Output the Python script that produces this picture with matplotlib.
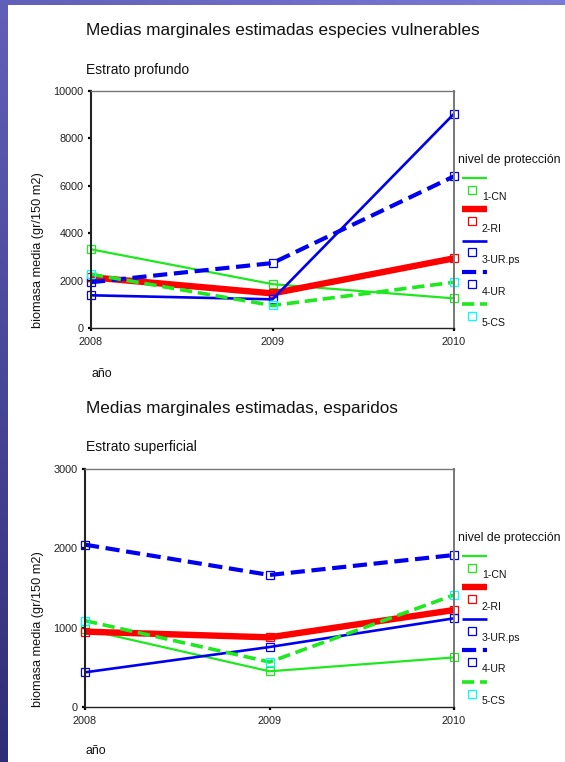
import numpy as np
import matplotlib
matplotlib.use("Agg")
import matplotlib.pyplot as plt
from matplotlib.lines import Line2D
from matplotlib.patches import Rectangle

plt.rcParams['font.family'] = ['Liberation Sans', 'DejaVu Sans']

years = [2008, 2009, 2010]
series_names = ['1-CN', '2-RI', '3-UR.ps', '4-UR', '5-CS']

# Estrato profundo (especies vulnerables)
prof_cn = [3320, 1850, 1250]
prof_ri = [2140, 1460, 2940]
prof_urps = [1380, 1210, 9040]
prof_ur = [1930, 2740, 6400]
prof_cs = [2270, 950, 1930]

# Estrato superficial (esparidos)
sup_cn = [980, 450, 625]
sup_ri = [950, 878, 1222]
sup_urps = [437, 756, 1118]
sup_ur = [2046, 1664, 1916]
sup_cs = [1088, 567, 1412]

prof_ticks = [0, 2000, 4000, 6000, 8000, 10000]
sup_ticks = [0, 1000, 2000, 3000]

GREEN = '#1ee81e'
RED = '#ff0000'
BLUE = '#0000ee'
CYAN = '#00ffff'

styles = [
    dict(color=GREEN, lw=1.6, ls='-', mec=GREEN),
    dict(color=RED, lw=4.6, ls='-', mec=RED),
    dict(color=BLUE, lw=1.9, ls='-', mec=BLUE),
    dict(color=BLUE, lw=3.0, ls=(0, (3.4, 1.6)), mec=BLUE),
    dict(color=GREEN, lw=2.6, ls=(0, (3.4, 1.6)), mec=CYAN),
]

W, H = 565, 762
fig = plt.figure(figsize=(W / 100, H / 100), dpi=100)

# gradient frame background
bg = fig.add_axes([0, 0, 1, 1], zorder=-10)
xs = np.linspace(0, 1, 200)
ys = np.linspace(0, 1, 200)
X, Y = np.meshgrid(xs, ys)
TL = np.array([96, 96, 184]) / 255
TR = np.array([123, 123, 216]) / 255
BL = np.array([46, 46, 118]) / 255
img = TL[None, None, :] + (TR - TL)[None, None, :] * X[..., None] + (BL - TL)[None, None, :] * Y[..., None]
bg.imshow(np.clip(img, 0, 1), extent=[0, 1, 0, 1], aspect='auto', origin='upper')
bg.add_patch(Rectangle((8 / W, 0), 1, 1 - 5 / H, color='white', lw=0))
bg.set_xlim(0, 1)
bg.set_ylim(0, 1)
bg.axis('off')


def px(x, y):
    return x / W, 1 - y / H


def make_panel(rect, data, ticks, ymax, title, subtitle, title_y, sub_y, ano_pos, ylab_pos, leg_y0):
    ax = fig.add_axes(rect)
    for vals, st in zip(data, styles):
        ax.plot(years, vals, color=st['color'], lw=st['lw'], ls=st['ls'],
                marker='s', ms=5.5, mfc='none', mec=st['mec'], mew=0.9,
                solid_capstyle='butt', dash_capstyle='butt', clip_on=False)
    ax.set_xlim(2008, 2010)
    ax.set_ylim(0, ymax)
    ax.set_xticks(years)
    ax.set_xticklabels([str(y) for y in years])
    ax.set_yticks(ticks)
    ax.set_yticklabels([str(t) for t in ticks])
    ax.tick_params(axis='both', labelsize=7.8, length=2.5, width=1.6, color='black',
                   labelcolor='#222222', pad=3)
    ax.tick_params(axis='x', pad=4)
    ax.spines['left'].set_color('#222222')
    ax.spines['left'].set_linewidth(1.5)
    ax.spines['bottom'].set_color('#222222')
    ax.spines['bottom'].set_linewidth(1.0)
    ax.spines['top'].set_color('#777777')
    ax.spines['top'].set_linewidth(1.0)
    ax.spines['right'].set_color('#777777')
    ax.spines['right'].set_linewidth(1.4)
    ax.set_facecolor('none')

    fig.text(*px(86, title_y), title, fontsize=12.3, ha='left', va='center', color='#111111')
    fig.text(*px(86, sub_y), subtitle, fontsize=10, ha='left', va='center', color='#111111')
    fig.text(*px(*ano_pos), 'año', fontsize=8.9, ha='left', va='center', color='#111111')
    fig.text(*px(*ylab_pos), 'biomasa media (gr/150 m2)', fontsize=9.2, rotation=90,
             ha='center', va='center', color='#111111')

    # legend drawn manually
    fig.text(*px(458, leg_y0), 'nivel de protección', fontsize=8.8, ha='left', va='center',
             color='#111111')
    for i, (name, st) in enumerate(zip(series_names, styles)):
        ly = leg_y0 + 17.5 + 31.5 * i
        x0, y0 = px(462, ly)
        x1, _ = px(487, ly)
        fig.add_artist(Line2D([x0, x1], [y0, y0], color=st['color'], lw=st['lw'], ls=st['ls'],
                              solid_capstyle='butt', dash_capstyle='butt', transform=fig.transFigure))
        mx, my = px(471.5, ly + 12)
        fig.add_artist(Line2D([mx], [my], marker='s', ms=5.5, mfc='none', mec=st['mec'], mew=0.9,
                              ls='none', transform=fig.transFigure))
        fig.text(*px(482, ly + 19.5), name, fontsize=7.6, ha='left', va='center', color='#111111')
    return ax


make_panel([91 / W, 1 - 328 / H, (454 - 91) / W, (328 - 91) / H],
           [prof_cn, prof_ri, prof_urps, prof_ur, prof_cs], prof_ticks, 10000,
           'Medias marginales estimadas especies vulnerables', 'Estrato profundo',
           31, 70, (91, 374), (38, 250), 160)

make_panel([85 / W, 1 - 707 / H, (454 - 85) / W, (707 - 469) / H],
           [sup_cn, sup_ri, sup_urps, sup_ur, sup_cs], sup_ticks, 3000,
           'Medias marginales estimadas, esparidos', 'Estrato superficial',
           408, 447, (85, 751), (38, 629), 538)

fig.savefig('out.png', dpi=100)
